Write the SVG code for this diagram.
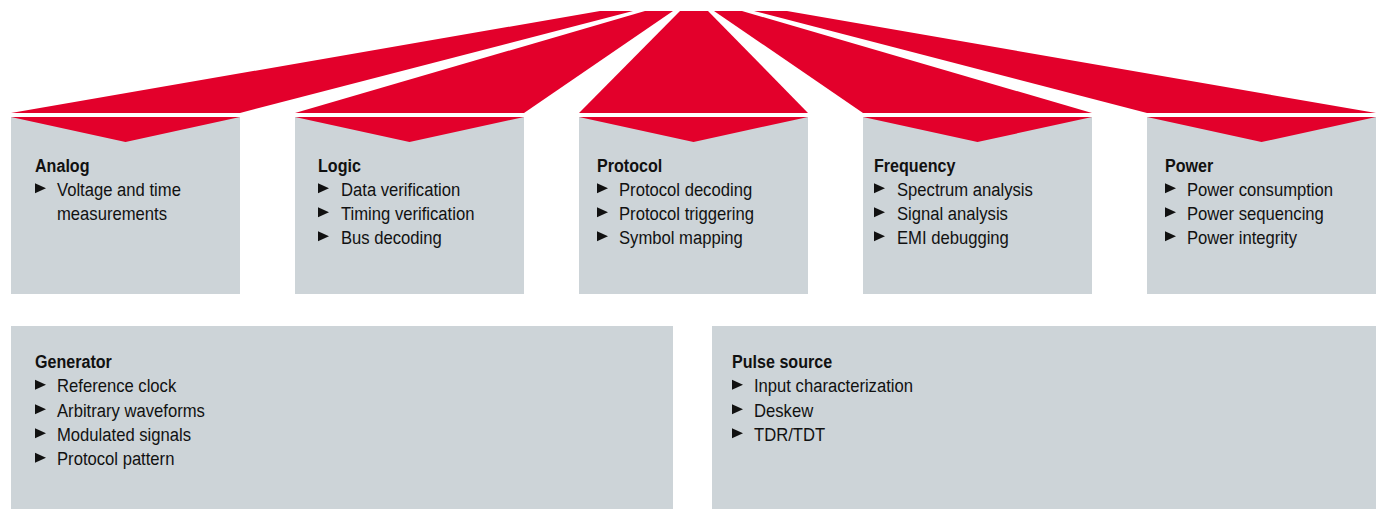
<svg xmlns="http://www.w3.org/2000/svg" width="1377" height="509" viewBox="0 0 1377 509">
<style>
.band{fill:#E3002B}
.box{fill:#CDD4D8}
.head{fill:#E3002B}
text{font-family:"Liberation Sans",Arial,sans-serif;font-size:18.5px;fill:#111111}
.t{font-weight:bold}
.bul{fill:#111111}
</style>
<defs>
<path id="b" d="M0,-12.2 L11,-7.2 L0,-2.2 Z"/>
</defs>
<rect width="1377" height="509" fill="#FFFFFF"/>
<g id="connectors">
<polygon class="band" points="600,11 633,11 240,113 11,113"/>
<polygon class="band" points="645,11 673,11 524,113 295,113"/>
<polygon class="band" points="680,11 708,11 808,113 579,113"/>
<polygon class="band" points="714,11 742,11 1092,113 863,113"/>
<polygon class="band" points="754,11 787,11 1376,113 1147,113"/>
</g>
<g id="analog">
<rect class="box" x="11" y="117" width="229" height="177"/>
<polygon class="head" points="11,117 240,117 125.5,142"/>
<text class="t" transform="translate(35,171.5) scale(0.87,1)">Analog</text>
<use href="#b" class="bul" x="35" y="195.5"/>
<text transform="translate(57,195.5) scale(0.9,1)">Voltage and time</text>
<text transform="translate(57,219.5) scale(0.9,1)">measurements</text>
</g>
<g id="logic">
<rect class="box" x="295" y="117" width="229" height="177"/>
<polygon class="head" points="295,117 524,117 409.5,142"/>
<text class="t" transform="translate(318,171.5) scale(0.87,1)">Logic</text>
<use href="#b" class="bul" x="318" y="195.5"/>
<text transform="translate(341,195.5) scale(0.9,1)">Data verification</text>
<use href="#b" class="bul" x="318" y="219.5"/>
<text transform="translate(341,219.5) scale(0.9,1)">Timing verification</text>
<use href="#b" class="bul" x="318" y="243.5"/>
<text transform="translate(341,243.5) scale(0.9,1)">Bus decoding</text>
</g>
<g id="protocol">
<rect class="box" x="579" y="117" width="229" height="177"/>
<polygon class="head" points="579,117 808,117 693.5,142"/>
<text class="t" transform="translate(597,171.5) scale(0.87,1)">Protocol</text>
<use href="#b" class="bul" x="597" y="195.5"/>
<text transform="translate(619,195.5) scale(0.9,1)">Protocol decoding</text>
<use href="#b" class="bul" x="597" y="219.5"/>
<text transform="translate(619,219.5) scale(0.9,1)">Protocol triggering</text>
<use href="#b" class="bul" x="597" y="243.5"/>
<text transform="translate(619,243.5) scale(0.9,1)">Symbol mapping</text>
</g>
<g id="frequency">
<rect class="box" x="863" y="117" width="229" height="177"/>
<polygon class="head" points="863,117 1092,117 977.5,142"/>
<text class="t" transform="translate(874,171.5) scale(0.87,1)">Frequency</text>
<use href="#b" class="bul" x="874" y="195.5"/>
<text transform="translate(897,195.5) scale(0.9,1)">Spectrum analysis</text>
<use href="#b" class="bul" x="874" y="219.5"/>
<text transform="translate(897,219.5) scale(0.9,1)">Signal analysis</text>
<use href="#b" class="bul" x="874" y="243.5"/>
<text transform="translate(897,243.5) scale(0.9,1)">EMI debugging</text>
</g>
<g id="power">
<rect class="box" x="1147" y="117" width="229" height="177"/>
<polygon class="head" points="1147,117 1376,117 1261.5,142"/>
<text class="t" transform="translate(1165,171.5) scale(0.87,1)">Power</text>
<use href="#b" class="bul" x="1165" y="195.5"/>
<text transform="translate(1187,195.5) scale(0.9,1)">Power consumption</text>
<use href="#b" class="bul" x="1165" y="219.5"/>
<text transform="translate(1187,219.5) scale(0.9,1)">Power sequencing</text>
<use href="#b" class="bul" x="1165" y="243.5"/>
<text transform="translate(1187,243.5) scale(0.9,1)">Power integrity</text>
</g>
<g id="generator">
<rect class="box" x="11" y="326" width="662" height="183"/>
<text class="t" transform="translate(35,368) scale(0.87,1)">Generator</text>
<use href="#b" class="bul" x="35" y="392"/>
<text transform="translate(57,392) scale(0.9,1)">Reference clock</text>
<use href="#b" class="bul" x="35" y="416.5"/>
<text transform="translate(57,416.5) scale(0.9,1)">Arbitrary waveforms</text>
<use href="#b" class="bul" x="35" y="440.5"/>
<text transform="translate(57,440.5) scale(0.9,1)">Modulated signals</text>
<use href="#b" class="bul" x="35" y="465"/>
<text transform="translate(57,465) scale(0.9,1)">Protocol pattern</text>
</g>
<g id="pulse-source">
<rect class="box" x="712" y="326" width="664" height="183"/>
<text class="t" transform="translate(732,368) scale(0.87,1)">Pulse source</text>
<use href="#b" class="bul" x="732" y="392"/>
<text transform="translate(754,392) scale(0.9,1)">Input characterization</text>
<use href="#b" class="bul" x="732" y="416.5"/>
<text transform="translate(754,416.5) scale(0.9,1)">Deskew</text>
<use href="#b" class="bul" x="732" y="440.5"/>
<text transform="translate(754,440.5) scale(0.9,1)">TDR/TDT</text>
</g>
</svg>
